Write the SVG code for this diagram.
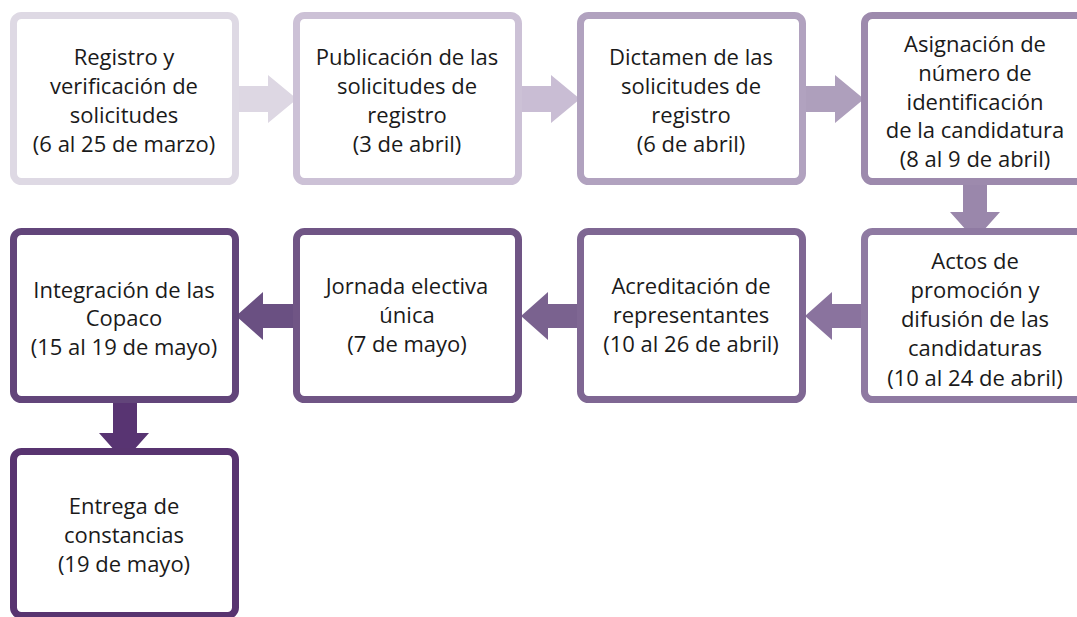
<svg xmlns="http://www.w3.org/2000/svg" width="1077" height="617" viewBox="0 0 1077 617">
<style>
.box{fill:#ffffff;stroke-width:7}
text{font-family:"Open Sans","Noto Sans","Liberation Sans",sans-serif;font-size:22px;fill:#1a1a1a;text-anchor:middle}
</style>
<rect width="1077" height="617" fill="#ffffff"/>
<g id="connectors">
<polygon fill="#DDD7E3" points="236,86 268,86 268,75 297,99 268,123 268,112 236,112"/>
<polygon fill="#C9BDD4" points="520,86 551,86 551,75 580,99 551,123 551,112 520,112"/>
<polygon fill="#AE9FBC" points="804,86 835,86 835,75 864,99 835,123 835,112 804,112"/>
<polygon fill="#9A87AB" points="963,182 987,182 987,212 1000,212 975,240 950,212 963,212"/>
<polygon fill="#8A739E" points="864,304 832,304 832,292 805,316 832,340 832,328 864,328"/>
<polygon fill="#7A628F" points="580,304 548,304 548,292 521,316 548,340 548,328 580,328"/>
<polygon fill="#6A5082" points="296,304 263,304 263,292 236,316 263,340 263,328 296,328"/>
<polygon fill="#583472" points="113,400 137,400 137,433 149,433 124,461 99,433 113,433"/>
</g>
<g id="n1"><rect class="box" x="13.5" y="15.5" width="222" height="166" rx="8" stroke="#DED9E4"/>
<text x="124" y="65">Registro y</text><text x="124" y="94">verificación de</text><text x="124" y="123">solicitudes</text><text x="124" y="152">(6 al 25 de marzo)</text></g>
<g id="n2"><rect class="box" x="296.5" y="15.5" width="222" height="166" rx="8" stroke="#CCC1D6"/>
<text x="407" y="65">Publicación de las</text><text x="407" y="94">solicitudes de</text><text x="407" y="123">registro</text><text x="407" y="152">(3 de abril)</text></g>
<g id="n3"><rect class="box" x="580.5" y="15.5" width="222" height="166" rx="8" stroke="#B1A2BF"/>
<text x="691" y="65">Dictamen de las</text><text x="691" y="94">solicitudes de</text><text x="691" y="123">registro</text><text x="691" y="152">(6 de abril)</text></g>
<g id="n4"><rect class="box" x="864.5" y="15.5" width="222" height="166" rx="8" stroke="#9D8AAD"/>
<text x="975" y="52">Asignación de</text><text x="975" y="81">número de</text><text x="975" y="110">identificación</text><text x="975" y="138">de la candidatura</text><text x="975" y="167">(8 al 9 de abril)</text></g>
<g id="n5"><rect class="box" x="864.5" y="231.5" width="222" height="168" rx="8" stroke="#8F7AA2"/>
<text x="975" y="269">Actos de</text><text x="975" y="298">promoción y</text><text x="975" y="327">difusión de las</text><text x="975" y="356">candidaturas</text><text x="975" y="386">(10 al 24 de abril)</text></g>
<g id="n6"><rect class="box" x="580.5" y="231.5" width="222" height="168" rx="8" stroke="#7F6793"/>
<text x="691" y="294">Acreditación de</text><text x="691" y="323">representantes</text><text x="691" y="352">(10 al 26 de abril)</text></g>
<g id="n7"><rect class="box" x="296.5" y="231.5" width="222" height="168" rx="8" stroke="#705585"/>
<text x="407" y="294">Jornada electiva</text><text x="407" y="323">única</text><text x="407" y="352">(7 de mayo)</text></g>
<g id="n8"><rect class="box" x="13.5" y="231.5" width="222" height="168" rx="8" stroke="#62457A"/>
<text x="124" y="298">Integración de las</text><text x="124" y="326">Copaco</text><text x="124" y="355">(15 al 19 de mayo)</text></g>
<g id="n9"><rect class="box" x="13.5" y="451.5" width="222" height="164" rx="8" stroke="#583470"/>
<text x="124" y="514">Entrega de</text><text x="124" y="543">constancias</text><text x="124" y="572">(19 de mayo)</text></g>
</svg>
